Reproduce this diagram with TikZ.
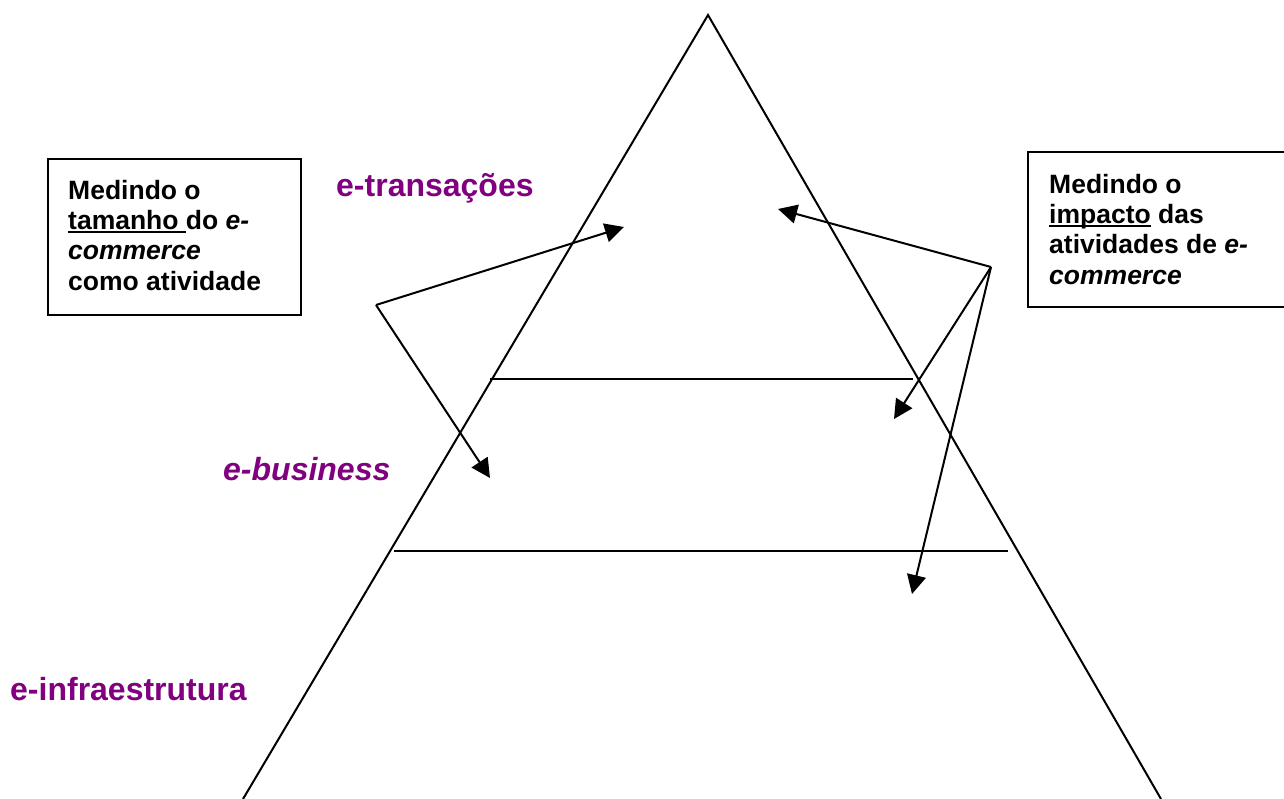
\documentclass[tikz,border=0pt]{standalone}
\usepackage{fontspec}
\setmainfont{Liberation Sans}
\usetikzlibrary{arrows.meta}
\definecolor{labpurple}{HTML}{800080}
\newcommand{\myul}[1]{\setbox0\hbox{#1}\rlap{\rule[-3.5pt]{\wd0}{1.6pt}}\box0\relax}
\begin{document}
\begin{tikzpicture}[x=1pt,y=-1pt,
  edge/.style={line width=2pt,black},
  arr/.style={line width=2pt,black,-{Triangle[length=19pt,width=19pt]}},
  level/.style={font=\fontsize{32}{38}\selectfont\bfseries,text=labpurple,inner sep=0pt,anchor=base west},
  boxtxt/.style={font=\fontsize{26.5}{30.3}\selectfont\bfseries,align=left,inner sep=0pt,anchor=base west},
  frame/.style={line width=2pt,black}]
\useasboundingbox (0,0) rectangle (1284,798);
% triangle
\coordinate (apex) at (708,15);
\coordinate (bl) at (243,799);
\coordinate (br) at (1161,799);
\draw[edge] (bl) -- (apex) -- (br);
% level lines
\coordinate (l1a) at (490,379);
\coordinate (l1b) at (913,379);
\coordinate (l2a) at (394,551);
\coordinate (l2b) at (1008,551);
\draw[edge] (l1a) -- (l1b);
\draw[edge] (l2a) -- (l2b);
% labels
\node[level] (trans) at (336,196) {e-transações};
\node[level] (bus) at (223,480) {\itshape e-business};
\node[level] (infra) at (10,700) {e-infraestrutura};
% left box
\draw[frame] (48,159) rectangle (301,315);
\node[boxtxt] (lefttxt) at (68,290) {Medindo o\\\myul{tamanho\ }do \textit{e-}\\\textit{commerce}\\como atividade};
% right box
\draw[frame] (1028,152) rectangle (1292,307);
\node[boxtxt] (righttxt) at (1049,284) {Medindo o\\\myul{impacto} das\\atividades de \textit{e-}\\\textit{commerce}};
% left arrows
\coordinate (lc) at (376,305);
\coordinate (lt1) at (624,227);
\coordinate (lt2) at (490,478);
\draw[arr] (lc) -- (lt1);
\draw[arr] (lc) -- (lt2);
% right arrows
\coordinate (rc) at (991,267);
\coordinate (rt1) at (778,209);
\coordinate (rt2) at (894,419);
\coordinate (rt3) at (912,594);
\draw[arr] (rc) -- (rt1);
\draw[arr] (rc) -- (rt2);
\draw[arr] (rc) -- (rt3);
\end{tikzpicture}
\end{document}
